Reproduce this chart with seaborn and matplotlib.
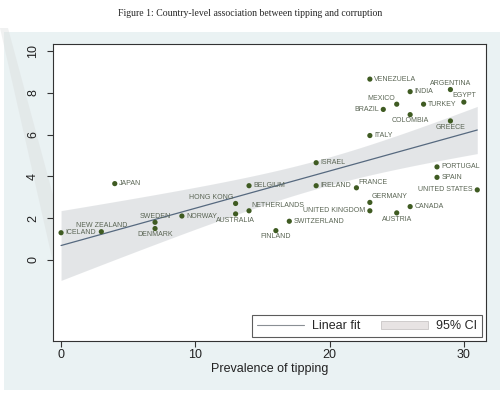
import numpy as np
import pandas as pd
import matplotlib
matplotlib.use('Agg')
import matplotlib.pyplot as plt
from matplotlib.lines import Line2D
from matplotlib.patches import Patch, Rectangle, Polygon
import seaborn as sns

# data
countries = ['ICELAND', 'NEW ZEALAND', 'JAPAN', 'SWEDEN', 'DENMARK', 'NORWAY',
             'HONG KONG', 'AUSTRALIA', 'BELGIUM', 'NETHERLANDS', 'FINLAND',
             'SWITZERLAND', 'ISRAEL', 'IRELAND', 'FRANCE', 'ITALY', 'GERMANY',
             'UNITED KINGDOM', 'VENEZUELA', 'BRAZIL', 'MEXICO', 'AUSTRIA',
             'INDIA', 'COLOMBIA', 'CANADA', 'TURKEY', 'PORTUGAL', 'SPAIN',
             'ARGENTINA', 'GREECE', 'EGYPT', 'UNITED STATES']
tipping = [0, 3, 4, 7, 7, 9, 13, 13, 14, 14, 16, 17, 19, 19, 22, 23, 23, 23,
           23, 24, 25, 25, 26, 26, 26, 27, 28, 28, 29, 29, 30, 31]
corruption = [1.3, 1.35, 3.65, 1.8, 1.5, 2.1, 2.7, 2.2, 3.55, 2.35, 1.4, 1.85,
              4.65, 3.55, 3.45, 5.95, 2.75, 2.35, 8.65, 7.2, 7.45, 2.25, 8.05,
              6.95, 2.55, 7.45, 4.45, 3.95, 8.15, 6.65, 7.55, 3.35]
x_ticks = [0, 10, 20, 30]
y_ticks = [0, 2, 4, 6, 8, 10]

# marker label placement (Stata clock positions)
label_pos = {'NEW ZEALAND': 12, 'SWEDEN': 12, 'DENMARK': 6, 'HONG KONG': 11,
             'AUSTRALIA': 6, 'NETHERLANDS': 1, 'FINLAND': 6, 'FRANCE': 1,
             'GERMANY': 1, 'UNITED KINGDOM': 9, 'BRAZIL': 9, 'MEXICO': 11,
             'AUSTRIA': 6, 'COLOMBIA': 6, 'ARGENTINA': 12, 'GREECE': 6,
             'EGYPT': 12, 'UNITED STATES': 9}
clock = {3: (3, 0, 'left', 'center'), 9: (-3, 0, 'right', 'center'),
         12: (0, 2, 'center', 'bottom'), 6: (0, -2, 'center', 'top'),
         1: (1.5, 1.5, 'left', 'bottom'), 11: (-1.5, 1.5, 'right', 'bottom')}

df = pd.DataFrame({'country': countries, 'tipping': tipping, 'corruption': corruption})

sns.set_theme(style='ticks')
plt.rcParams['font.family'] = ['Liberation Sans', 'DejaVu Sans']

BG = '#eaf2f3'
DOT = '#3f5b22'
LAB = '#5a6554'
FIT = '#56697f'
BAND = '#c9cdd1'
T_CRIT = 2.042  # t(0.975, df=30), as Stata's lfitci uses

W, H = 500, 394
fig = plt.figure(figsize=(5, 3.94), dpi=100, facecolor='white')

# Stata graph region
fig.patches.append(Rectangle((4 / W, 4 / H), 496 / W, 358 / H, transform=fig.transFigure,
                             facecolor=BG, edgecolor='none', zorder=-3))
# stray wedge of the CI band that leaks out of the plot region
fig.patches.append(Polygon([(0, 1 - 28 / H), (8 / W, 1 - 28 / H), (57 / W, 1 - 210 / H),
                            (57 / W, 1 - 280 / H)], closed=True, transform=fig.transFigure,
                           facecolor='#dadcdc', edgecolor='none', alpha=0.4, zorder=-2))

fig.text(0.5, 1 - 14 / H, 'Figure 1: Country-level association between tipping and corruption',
         ha='center', va='center', fontsize=7, family=['Liberation Serif', 'DejaVu Serif'])

ax = fig.add_axes([53 / W, 1 - 341 / H, 433 / W, 297 / H])
ax.set_facecolor('white')

# analytic 95% CI of the fitted mean (Stata lfitci)
xv = df['tipping'].to_numpy(float)
yv = df['corruption'].to_numpy(float)
slope, icpt = np.polyfit(xv, yv, 1)
resid = yv - (icpt + slope * xv)
s = np.sqrt((resid ** 2).sum() / (len(xv) - 2))
grid = np.linspace(xv.min(), xv.max(), 100)
se = s * np.sqrt(1 / len(xv) + (grid - xv.mean()) ** 2 / ((xv - xv.mean()) ** 2).sum())
fit = icpt + slope * grid
ax.fill_between(grid, fit - T_CRIT * se, fit + T_CRIT * se, color=BAND, alpha=0.5,
                lw=0, zorder=1)

sns.regplot(data=df, x='tipping', y='corruption', ax=ax, scatter=False, ci=None,
            truncate=True, line_kws={'color': FIT, 'lw': 0.9, 'zorder': 2})

sns.scatterplot(data=df, x='tipping', y='corruption', ax=ax, color=DOT, s=14,
                edgecolor='none', zorder=3)

for c, px, py in zip(countries, tipping, corruption):
    dx, dy, ha, va = clock[label_pos.get(c, 3)]
    ax.annotate(c, (px, py), xytext=(dx, dy), textcoords='offset points',
                ha=ha, va=va, fontsize=5, color=LAB, zorder=4)

ax.set_xlim(-0.6, 31.65)
ax.set_ylim(-3.88, 10.33)
ax.set_xticks(x_ticks)
ax.set_yticks(y_ticks)
ax.set_xlabel('Prevalence of tipping', fontsize=9, labelpad=1, color='#222222')
ax.set_ylabel('')
ax.tick_params(axis='both', labelsize=9, length=4, width=0.8, color='#333333',
               labelcolor='#222222')
ax.tick_params(axis='x', pad=2)
ax.tick_params(axis='y', pad=6)
for lab in ax.get_yticklabels():
    lab.set_rotation(90)
    lab.set_va('center')
for sp in ax.spines.values():
    sp.set_visible(True)
    sp.set_color('#333333')
    sp.set_linewidth(0.8)

handles = [Line2D([], [], color='#8a8f94', lw=0.8),
           Patch(facecolor='#e7e3e3', edgecolor='#c9c6c6', lw=0.6)]
leg = ax.legend(handles, ['Linear fit', '95% CI'], loc='lower right', ncol=2,
                fontsize=9, frameon=True, fancybox=False, borderpad=0.4,
                handlelength=3.8, columnspacing=1.6, handletextpad=0.65,
                borderaxespad=0.3)
leg.get_frame().set_edgecolor('#333333')
leg.get_frame().set_linewidth(0.8)

fig.savefig('out.png', dpi=100, facecolor='white')
